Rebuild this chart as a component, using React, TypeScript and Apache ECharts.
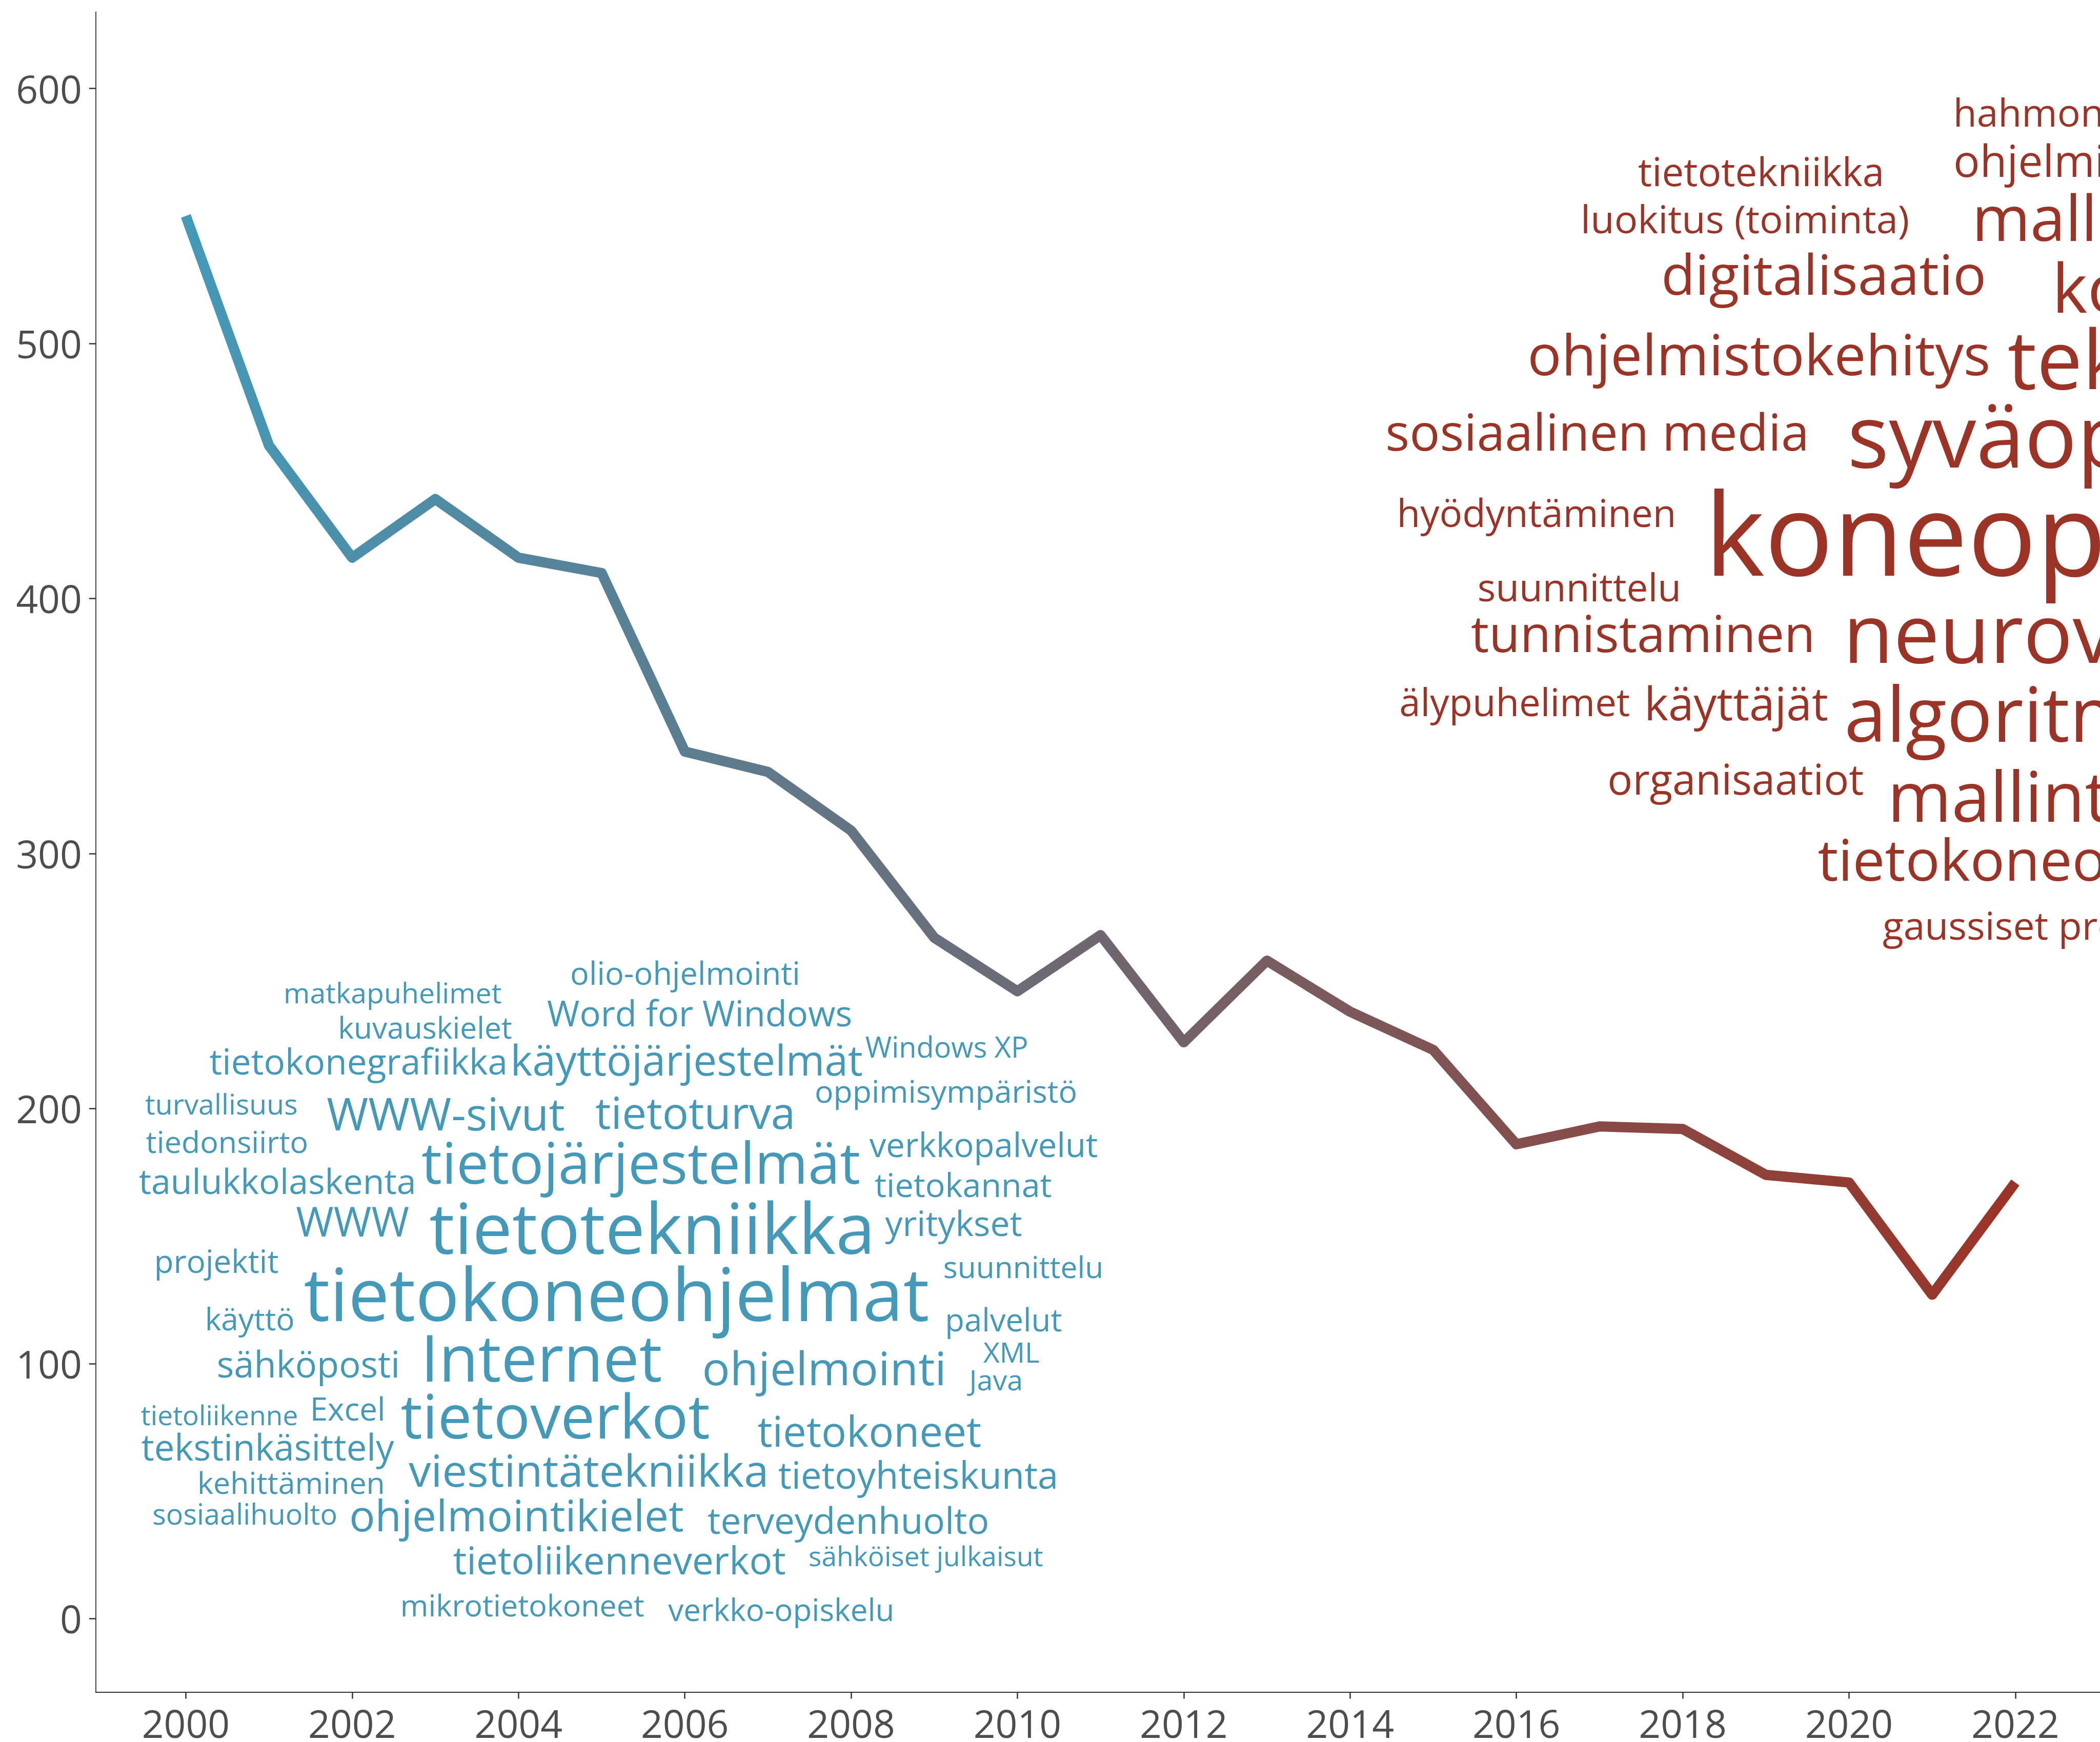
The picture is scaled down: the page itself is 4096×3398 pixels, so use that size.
import React, { useEffect, useRef } from "react";
import * as echarts from "echarts";

// ---- line data ----
const years = [2000, 2001, 2002, 2003, 2004, 2005, 2006, 2007, 2008, 2009, 2010, 2011, 2012, 2013, 2014, 2015, 2016, 2017, 2018, 2019, 2020, 2021, 2022];
const counts = [550, 460, 416, 439, 416, 410, 340, 332, 309, 267, 246, 268, 226, 258, 238, 223, 186, 193, 192, 174, 171, 127, 171];
const xTicks = [2000, 2002, 2004, 2006, 2008, 2010, 2012, 2014, 2016, 2018, 2020, 2022];
const yTicks = [0, 100, 200, 300, 400, 500, 600];

// ---- early-years word cloud (blue): text, left year, right year, baseline value ----
const blueWords = ["olio-ohjelmointi", "matkapuhelimet", "Word for Windows", "kuvauskielet", "tietokonegrafiikka", "käyttöjärjestelmät", "Windows XP", "oppimisympäristö", "turvallisuus", "WWW-sivut", "tietoturva", "tiedonsiirto", "verkkopalvelut", "tietojärjestelmät", "taulukkolaskenta", "tietokannat", "WWW", "tietotekniikka", "yritykset", "projektit", "suunnittelu", "tietokoneohjelmat", "käyttö", "palvelut", "sähköposti", "Internet", "ohjelmointi", "XML", "Java", "tietoliikenne", "Excel", "tietoverkot", "tietokoneet", "tekstinkäsittely", "viestintätekniikka", "tietoyhteiskunta", "kehittäminen", "sosiaalihuolto", "ohjelmointikielet", "terveydenhuolto", "tietoliikenneverkot", "sähköiset julkaisut", "mikrotietokoneet", "verkko-opiskelu"];
const blueLeft = [2004.64, 2001.20, 2004.35, 2001.86, 2000.29, 2003.94, 2008.17, 2007.58, 1999.51, 2001.70, 2004.93, 1999.52, 2008.22, 2002.84, 1999.44, 2008.29, 2001.33, 2002.94, 2008.41, 1999.65, 2009.12, 2001.43, 2000.26, 2009.16, 2000.39, 2002.90, 2006.24, 2009.59, 2009.39, 1999.46, 2001.53, 2002.59, 2006.88, 1999.47, 2002.68, 2007.13, 2000.17, 1999.61, 2001.99, 2006.28, 2003.22, 2007.50, 2002.61, 2005.80];
const blueRight = [2007.36, 2003.79, 2008.00, 2003.92, 2003.84, 2008.13, 2010.11, 2010.70, 2001.33, 2004.55, 2007.29, 2001.45, 2010.96, 2008.10, 2002.74, 2010.41, 2002.68, 2008.23, 2010.05, 2001.11, 2011.00, 2008.93, 2001.29, 2010.53, 2002.54, 2005.72, 2009.11, 2010.26, 2010.04, 2001.33, 2002.37, 2006.29, 2009.56, 2002.51, 2006.97, 2010.46, 2002.37, 2001.80, 2005.98, 2009.64, 2007.21, 2010.30, 2005.51, 2008.49];
const blueBase = [248.5, 241.2, 232.3, 227.5, 213.4, 213.0, 219.9, 202.2, 197.7, 191.5, 192.1, 182.6, 180.9, 170.6, 166.5, 165.4, 149.8, 142.9, 150.1, 135.5, 133.6, 116.7, 113.1, 112.6, 94.5, 93.0, 91.6, 100.3, 89.6, 75.9, 77.7, 70.6, 67.5, 62.0, 51.8, 51.0, 48.9, 36.9, 34.2, 33.2, 17.4, 20.6, 0.8, -1.0];

// ---- recent-years word cloud (red) ----
const redWords = ["tietotekniikka", "luokitus (toiminta)", "digitalisaatio", "ohjelmistokehitys", "sosiaalinen media", "hyödyntäminen", "suunnittelu", "tunnistaminen", "älypuhelimet", "käyttäjät", "organisaatiot"];
const redLeft = [2017.47, 2016.81, 2017.78, 2016.17, 2014.45, 2014.60, 2015.55, 2015.46, 2014.61, 2017.58, 2017.12];
const redRight = [2020.39, 2020.71, 2021.62, 2021.68, 2019.47, 2017.89, 2017.94, 2019.55, 2017.36, 2019.74, 2020.17];
const redBase = [561.8, 543.3, 519.1, 487.5, 457.9, 428.1, 398.8, 379.0, 353.8, 352.2, 323.2];
// words running off the right edge: text, left year, baseline value, relative size
const redEdgeWords = ["hahmontunnistus", "ohjelmistot", "mallit", "konenäkö", "tekoäly", "syväoppiminen", "koneoppiminen", "neuroverkot", "algoritmit", "mallintaminen", "tietokoneohjelmat", "gaussiset prosessit"];
const redEdgeLeft = [2021.29, 2021.28, 2021.54, 2022.51, 2021.92, 2020.03, 2018.38, 2020.01, 2019.98, 2020.53, 2019.63, 2020.41];
const redEdgeBase = [585.0, 565.4, 540.3, 512.0, 482.2, 451.4, 409.0, 374.7, 343.8, 312.5, 289.3, 266.2];
const redEdgeSize = [75, 86, 123, 131, 159, 170, 223, 160, 148, 135, 112, 75];

const FONT = "Open Sans";
const BLUE = "#4499b8";
const RED = "#9b3326";

const X_MIN = 1998.917;
const X_MAX = 2023.083;
const Y_MIN = -28.8;
const Y_MAX = 630;
const GRID_LEFT = 186.8;
const GRID_TOP = 23.3;
const GRID_WIDTH = 3919.7;
const GRID_HEIGHT = 3277.3;

export default function App() {
  const ref = useRef<HTMLDivElement>(null);

  useEffect(() => {
    if (!ref.current) return;
    const chart = echarts.init(ref.current, undefined, { renderer: "svg" });
    const ctx = document.createElement("canvas").getContext("2d")!;
    const measure = (t: string, s: number) => {
      ctx.font = `${s}px "${FONT}"`;
      const m = ctx.measureText(t);
      return {
        l: m.actualBoundingBoxLeft,
        r: m.actualBoundingBoxRight,
        a: m.fontBoundingBoxAscent,
        d: m.fontBoundingBoxDescent,
      };
    };
    const pxPerYear = GRID_WIDTH / (X_MAX - X_MIN);

    const makeItem = (text: string, x: number, y: number, size: number, color: string) => {
      const m = measure(text, size);
      return {
        value: [x, y],
        label: {
          show: true,
          position: "inside",
          formatter: text,
          fontSize: size,
          fontFamily: FONT,
          color,
          opacity: 1,
          align: "left",
          verticalAlign: "middle",
          offset: [m.l, -(m.a - m.d) / 2],
        },
      };
    };
    const fitted = (words: string[], L: number[], R: number[], B: number[], color: string) =>
      words.map((w, i) => {
        const m = measure(w, 100);
        const ink = (m.l + m.r) / 100;
        const size = ((R[i] - L[i]) * pxPerYear) / ink;
        return makeItem(w, L[i], B[i], size, color);
      });

    const wordData = [
      ...fitted(blueWords, blueLeft, blueRight, blueBase, BLUE),
      ...fitted(redWords, redLeft, redRight, redBase, RED),
      ...redEdgeWords.map((w, i) => makeItem(w, redEdgeLeft[i], redEdgeBase[i], redEdgeSize[i], RED)),
    ];

    chart.setOption({
      animation: false,
      backgroundColor: "#ffffff",
      grid: {
        left: GRID_LEFT,
        top: GRID_TOP,
        width: GRID_WIDTH,
        height: GRID_HEIGHT,
        containLabel: false,
        outerBoundsMode: "none",
      },
      xAxis: {
        type: "value",
        min: X_MIN,
        max: X_MAX,
        splitLine: { show: false },
        axisLine: { show: true, onZero: false, lineStyle: { color: "#333333", width: 2.2 } },
        axisTick: { show: true, customValues: xTicks, length: 13, lineStyle: { color: "#333333", width: 2.5 } },
        axisLabel: {
          customValues: xTicks,
          formatter: (v: number) => String(v),
          fontSize: 75,
          lineHeight: 60,
          fontFamily: FONT,
          color: "#4d4d4d",
          margin: 30,
        },
      },
      yAxis: {
        type: "value",
        min: Y_MIN,
        max: Y_MAX,
        splitLine: { show: false },
        axisLine: { show: true, onZero: false, lineStyle: { color: "#333333", width: 1.8 } },
        axisTick: { show: true, customValues: yTicks, length: 13, lineStyle: { color: "#333333", width: 2.5 } },
        axisLabel: {
          customValues: yTicks,
          formatter: (v: number) => String(v),
          fontSize: 75,
          fontFamily: FONT,
          color: "#4d4d4d",
          margin: 27,
        },
      },
      series: [
        {
          type: "scatter",
          data: wordData,
          symbolSize: 1,
          itemStyle: { color: "rgba(0,0,0,0)", opacity: 1 },
          silent: true,
          z: 1,
        },
        {
          type: "line",
          data: years.map((y, i) => [y, counts[i]]),
          symbol: "none",
          smooth: false,
          silent: true,
          z: 3,
          lineStyle: {
            width: 20,
            cap: "butt",
            join: "round",
            color: new echarts.graphic.LinearGradient(0, 0, 1, 0, [
              { offset: 0, color: "#4499b8" },
              { offset: 1, color: "#9b3326" },
            ]),
          },
        },
      ],
    });
    return () => chart.dispose();
  }, []);

  return (
    <div
      ref={ref}
      style={{ position: "fixed", left: 0, top: 0, width: 4096, height: 3398, background: "#ffffff" }}
    />
  );
}
